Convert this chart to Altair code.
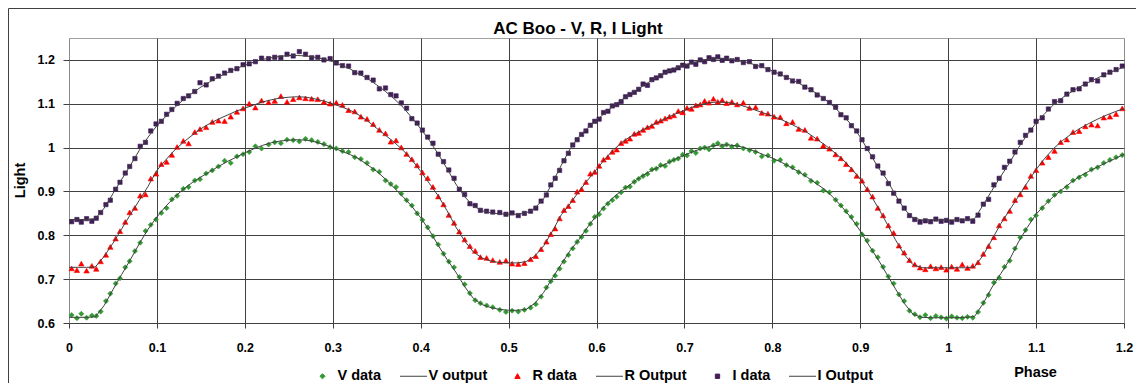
import altair as alt
import pandas as pd

# ---------------- data ----------------
model_phase = [
    0.00, 0.01, 0.02, 0.03, 0.04, 0.05, 0.06, 0.07, 0.08, 0.09,
    0.10, 0.11, 0.12, 0.13, 0.14, 0.15, 0.16, 0.17, 0.18, 0.19,
    0.20, 0.21, 0.22, 0.23, 0.24, 0.25, 0.26, 0.27, 0.28, 0.29,
    0.30, 0.31, 0.32, 0.33, 0.34, 0.35, 0.36, 0.37, 0.38, 0.39,
    0.40, 0.41, 0.42, 0.43, 0.44, 0.45, 0.46, 0.47, 0.48, 0.49,
    0.50, 0.51, 0.52, 0.53, 0.54, 0.55, 0.56, 0.57, 0.58, 0.59,
    0.60, 0.61, 0.62, 0.63, 0.64, 0.65, 0.66, 0.67, 0.68, 0.69,
    0.70, 0.71, 0.72, 0.73, 0.74, 0.75, 0.76, 0.77, 0.78, 0.79,
    0.80, 0.81, 0.82, 0.83, 0.84, 0.85, 0.86, 0.87, 0.88, 0.89,
    0.90, 0.91, 0.92, 0.93, 0.94, 0.95, 0.96, 0.97, 0.98, 0.99,
    1.00, 1.01, 1.02, 1.03, 1.04, 1.05, 1.06, 1.07, 1.08, 1.09,
    1.10, 1.11, 1.12, 1.13, 1.14, 1.15, 1.16, 1.17, 1.18, 1.19,
    1.20,
]
v_output = [
    .613, .613, .613, .614, .640, .676, .711, .745, .781, .814,
    .842, .866, .887, .905, .920, .933, .945, .957, .968, .978,
    .988, .997, 1.005, 1.011, 1.015, 1.017, 1.018, 1.017, 1.013, 1.007,
    1.000, .992, .984, .974, .960, .946, .928, .908, .888, .866,
    .840, .811, .777, .745, .716, .683, .656, .642, .635, .631,
    .629, .629, .631, .645, .670, .703, .734, .765, .790, .819,
    .845, .868, .888, .904, .918, .933, .945, .955, .964, .974,
    .983, .991, .998, 1.003, 1.006, 1.006, 1.004, .999, .992, .984,
    .976, .967, .956, .945, .932, .918, .904, .885, .863, .839,
    .810, .777, .746, .712, .678, .645, .620, .613, .612, .612,
    .612, .612, .613, .615, .645, .682, .713, .745, .785, .818,
    .848, .870, .889, .905, .921, .935, .946, .956, .966, .975,
    .985,
]
r_output = [
    .727, .727, .727, .728, .752, .782, .815, .848, .880, .912,
    .948, .972, .994, 1.012, 1.028, 1.043, 1.055, 1.065, 1.074, 1.083,
    1.090, 1.097, 1.104, 1.109, 1.113, 1.115, 1.116, 1.115, 1.111, 1.106,
    1.100, 1.093, 1.085, 1.074, 1.060, 1.044, 1.028, 1.012, .994, .972,
    .946, .918, .890, .856, .819, .787, .762, .748, .741, .738,
    .737, .737, .740, .753, .776, .810, .847, .872, .900, .926,
    .950, .975, .996, 1.014, 1.027, 1.038, 1.048, 1.058, 1.068, 1.077,
    1.085, 1.093, 1.099, 1.103, 1.104, 1.103, 1.099, 1.093, 1.086, 1.079,
    1.072, 1.064, 1.055, 1.045, 1.034, 1.020, 1.006, .990, .973, .952,
    .928, .898, .864, .828, .790, .756, .733, .726, .726, .726,
    .726, .726, .726, .728, .755, .791, .827, .858, .889, .920,
    .950, .976, .998, 1.016, 1.031, 1.044, 1.055, 1.065, 1.074, 1.082,
    1.089,
]
i_output = [
    .836, .836, .836, .838, .862, .895, .928, .960, .994, 1.024,
    1.050, 1.071, 1.091, 1.109, 1.124, 1.138, 1.150, 1.161, 1.171, 1.180,
    1.188, 1.195, 1.201, 1.205, 1.208, 1.210, 1.210, 1.209, 1.206, 1.202,
    1.196, 1.188, 1.179, 1.168, 1.157, 1.143, 1.128, 1.111, 1.092, 1.068,
    1.043, 1.016, .985, .952, .917, .888, .867, .856, .851, .849,
    .848, .848, .851, .862, .884, .920, .960, .997, 1.025, 1.045,
    1.062, 1.080, 1.096, 1.111, 1.124, 1.137, 1.150, 1.162, 1.173, 1.181,
    1.188, 1.194, 1.199, 1.202, 1.203, 1.202, 1.199, 1.195, 1.189, 1.183,
    1.175, 1.166, 1.157, 1.147, 1.136, 1.124, 1.110, 1.093, 1.074, 1.052,
    1.024, .990, .956, .928, .892, .860, .840, .835, .835, .835,
    .835, .835, .835, .838, .870, .903, .935, .966, 1.000, 1.030,
    1.056, 1.078, 1.098, 1.114, 1.127, 1.139, 1.149, 1.159, 1.168, 1.176,
    1.184,
]

data_phase = [
    0.003, 0.009, 0.014, 0.020, 0.026, 0.031, 0.036, 0.042, 0.047, 0.053,
    0.058, 0.064, 0.069, 0.075, 0.081, 0.087, 0.093, 0.099, 0.105, 0.111,
    0.117, 0.123, 0.130, 0.136, 0.143, 0.149, 0.156, 0.163, 0.170, 0.177,
    0.184, 0.191, 0.198, 0.205, 0.212, 0.219, 0.227, 0.234, 0.241, 0.248,
    0.255, 0.262, 0.269, 0.276, 0.283, 0.290, 0.297, 0.304, 0.311, 0.318,
    0.325, 0.332, 0.339, 0.346, 0.353, 0.360, 0.366, 0.372, 0.378, 0.384,
    0.390, 0.396, 0.402, 0.408, 0.414, 0.420, 0.426, 0.432, 0.438, 0.444,
    0.450, 0.456, 0.462, 0.468, 0.475, 0.482, 0.490, 0.497, 0.504, 0.511,
    0.518, 0.525, 0.531, 0.537, 0.543, 0.548, 0.553, 0.558, 0.563, 0.568,
    0.573, 0.578, 0.583, 0.588, 0.593, 0.598, 0.603, 0.608, 0.613, 0.618,
    0.623, 0.628, 0.633, 0.638, 0.643, 0.648, 0.653, 0.658, 0.663, 0.668,
    0.673, 0.678, 0.683, 0.688, 0.693, 0.698, 0.703, 0.708, 0.713, 0.718,
    0.723, 0.728, 0.733, 0.738, 0.743, 0.748, 0.754, 0.760, 0.767, 0.774,
    0.781, 0.788, 0.795, 0.802, 0.809, 0.816, 0.823, 0.830, 0.837, 0.844,
    0.851, 0.858, 0.865, 0.872, 0.878, 0.884, 0.890, 0.896, 0.902, 0.908,
    0.914, 0.920, 0.926, 0.932, 0.938, 0.944, 0.950, 0.956, 0.962, 0.968,
    0.974, 0.980, 0.986, 0.992, 0.998, 1.004, 1.010, 1.016, 1.022, 1.028,
    1.034, 1.040, 1.046, 1.052, 1.058, 1.064, 1.070, 1.076, 1.082, 1.088,
    1.094, 1.100, 1.107, 1.114, 1.121, 1.128, 1.135, 1.142, 1.149, 1.156,
    1.163, 1.170, 1.177, 1.184, 1.191, 1.198,
]
v_data = [
    .618, .611, .621, .612, .617, .616, .626, .650, .667, .690,
    .702, .727, .741, .764, .783, .810, .824, .836, .851, .862,
    .882, .890, .906, .910, .925, .928, .941, .948, .957, .970,
    .965, .980, .985, .990, 1.003, .998, 1.007, 1.012, 1.010, 1.018,
    1.017, 1.014, 1.020, 1.017, 1.013, 1.008, 1.001, .998, .992, .990,
    .978, .974, .965, .950, .945, .925, .917, .910, .895, .880,
    .868, .850, .835, .818, .798, .779, .758, .740, .727, .705,
    .688, .668, .652, .645, .640, .636, .630, .625, .628, .626,
    .630, .635, .643, .660, .681, .695, .708, .724, .740, .755,
    .770, .785, .796, .810, .826, .842, .848, .861, .872, .880,
    .888, .898, .909, .911, .922, .929, .935, .940, .950, .952,
    .960, .958, .968, .972, .975, .984, .982, .992, .988, .998,
    1.000, .996, 1.005, 1.010, 1.003, 1.007, 1.002, 1.005, .998, .994,
    .990, .980, .982, .970, .972, .960, .955, .944, .938, .924,
    .920, .902, .898, .881, .868, .855, .842, .826, .802, .788,
    .765, .750, .728, .706, .690, .665, .650, .628, .620, .613,
    .618, .611, .616, .613, .610, .615, .612, .611, .614, .612,
    .625, .646, .664, .692, .703, .728, .742, .770, .795, .812,
    .836, .845, .862, .878, .892, .900, .910, .925, .932, .938,
    .950, .955, .965, .972, .978, .983,
]
r_data = [
    .724, .720, .735, .719, .730, .723, .740, .755, .773, .792,
    .809, .830, .852, .862, .890, .893, .929, .940, .962, .967,
    .983, 1.001, 1.015, 1.009, 1.035, 1.042, 1.046, 1.058, 1.061, 1.060,
    1.070, 1.081, 1.089, 1.100, 1.091, 1.107, 1.103, 1.106, 1.117, 1.104,
    1.110, 1.114, 1.112, 1.111, 1.110, 1.104, 1.100, 1.102, 1.097, 1.085,
    1.082, 1.070, 1.065, 1.053, 1.040, 1.032, 1.013, 1.016, 1.000, .985,
    .973, .959, .943, .930, .910, .888, .870, .846, .828, .808,
    .790, .775, .764, .750, .748, .743, .739, .742, .735, .734,
    .736, .745, .752, .768, .785, .802, .815, .838, .857, .866,
    .880, .899, .905, .921, .940, .944, .958, .972, .978, .990,
    .995, 1.010, 1.015, 1.020, 1.031, 1.033, 1.040, 1.046, 1.049, 1.058,
    1.061, 1.066, 1.070, 1.073, 1.083, 1.080, 1.090, 1.088, 1.096, 1.098,
    1.106, 1.102, 1.111, 1.104, 1.108, 1.101, 1.104, 1.098, 1.102, 1.090,
    1.092, 1.079, 1.077, 1.070, 1.069, 1.055, 1.058, 1.042, 1.040, 1.022,
    1.020, 1.004, .997, .984, .975, .962, .950, .935, .924, .905,
    .888, .862, .845, .822, .805, .776, .760, .743, .733, .726,
    .722, .729, .724, .727, .721, .728, .723, .733, .725, .730,
    .738, .757, .775, .795, .822, .838, .855, .880, .893, .910,
    .935, .948, .965, .978, .992, 1.012, 1.018, 1.035, 1.037, 1.048,
    1.052, 1.050, 1.068, 1.070, 1.076, 1.089,
]
i_data = [
    .831, .836, .830, .838, .832, .839, .852, .870, .880, .905,
    .921, .942, .957, .975, 1.003, 1.012, 1.038, 1.054, 1.060, 1.076,
    1.087, 1.101, 1.112, 1.118, 1.128, 1.148, 1.143, 1.157, 1.163, 1.170,
    1.176, 1.180, 1.189, 1.191, 1.196, 1.204, 1.203, 1.206, 1.205, 1.213,
    1.209, 1.219, 1.213, 1.205, 1.206, 1.200, 1.203, 1.193, 1.187, 1.186,
    1.171, 1.170, 1.160, 1.154, 1.134, 1.136, 1.121, 1.118, 1.102, 1.090,
    1.066, 1.056, 1.040, 1.024, 1.010, .985, .968, .949, .930, .905,
    .893, .872, .868, .857, .855, .853, .852, .848, .851, .845,
    .850, .855, .862, .878, .892, .915, .930, .948, .970, .987,
    1.006, 1.018, 1.030, 1.038, 1.051, 1.060, 1.065, 1.080, 1.083, 1.095,
    1.098, 1.105, 1.116, 1.121, 1.126, 1.133, 1.145, 1.142, 1.155, 1.159,
    1.164, 1.172, 1.175, 1.177, 1.182, 1.188, 1.186, 1.195, 1.190, 1.200,
    1.196, 1.205, 1.201, 1.207, 1.199, 1.204, 1.198, 1.201, 1.194, 1.196,
    1.185, 1.187, 1.178, 1.172, 1.168, 1.160, 1.152, 1.151, 1.138, 1.132,
    1.120, 1.112, 1.103, 1.092, 1.075, 1.068, 1.050, 1.038, 1.018, .998,
    .979, .958, .942, .918, .896, .878, .862, .845, .836, .830,
    .833, .831, .837, .832, .834, .830, .836, .833, .838, .832,
    .846, .871, .882, .915, .930, .955, .969, .990, 1.012, 1.028,
    1.040, 1.060, 1.068, 1.088, 1.105, 1.107, 1.122, 1.132, 1.134, 1.145,
    1.155, 1.152, 1.166, 1.172, 1.178, 1.186,
]

x_ticks = [0, 0.1, 0.2, 0.3, 0.4, 0.5, 0.6, 0.7, 0.8, 0.9, 1, 1.1, 1.2]
y_ticks = [0.6, 0.7, 0.8, 0.9, 1, 1.1, 1.2]

series_names = ["V data", "V output", "R data", "R Output", "I data", "I Output"]

# ---------------- styling ----------------
FONT = "Liberation Sans"
GREEN = "#339933"
RED = "#ff0000"
PURPLE = "#3f1f56"
LINE = "#404040"

fill_range = [GREEN, "transparent", RED, "transparent", PURPLE, "transparent"]
stroke_range = [GREEN, LINE, RED, LINE, PURPLE, LINE]
shape_range = [
    "M0,-0.19L0.19,0L0,0.19L-0.19,0Z",          # diamond
    "M-1,0H1",                                   # line
    "M0,-0.19L0.2,0.16L-0.2,0.16Z",             # triangle
    "M-1,0H1",
    "M-0.16,-0.16H0.16V0.16H-0.16Z",            # square
    "M-1,0H1",
]

assert len(model_phase) == len(v_output) == len(r_output) == len(i_output)
assert len(data_phase) == len(v_data) == len(r_data) == len(i_data)

points_df = pd.concat([
    pd.DataFrame({"phase": data_phase, "light": v_data, "series": "V data"}),
    pd.DataFrame({"phase": data_phase, "light": r_data, "series": "R data"}),
    pd.DataFrame({"phase": data_phase, "light": i_data, "series": "I data"}),
], ignore_index=True)

lines_df = pd.concat([
    pd.DataFrame({"phase": model_phase, "light": v_output, "series": "V output"}),
    pd.DataFrame({"phase": model_phase, "light": r_output, "series": "R Output"}),
    pd.DataFrame({"phase": model_phase, "light": i_output, "series": "I Output"}),
], ignore_index=True)

x_scale = alt.Scale(domain=[0, 1.2], nice=False, zero=False)
y_scale = alt.Scale(domain=[0.6, 1.25], nice=False, zero=False)

x_axis = alt.Axis(
    values=x_ticks, format="~g", domain=False, grid=True,
    gridColor=alt.condition("datum.value <= 0 || datum.value >= 1.19",
                            alt.value("#8c8c8c"), alt.value("#404040")),
    gridWidth=1, tickSize=5, tickColor="#404040", labelPadding=13,
    labelFont=FONT, labelFontSize=12.5, labelFontWeight="bold", labelColor="black",
    labelFlush=False, labelOverlap=False,
    title="Phase", titleFont=FONT, titleFontSize=14.5, titleFontWeight="bold",
    titleColor="black", titleX=966, titleY=53.5, titleAlign="center",
    titleBaseline="alphabetic",
)
y_axis = alt.Axis(
    values=y_ticks, format="~g", domain=False, grid=True, gridColor="#404040",
    gridWidth=1, tickSize=6, tickColor="#404040", labelPadding=8.5,
    labelFont=FONT, labelFontSize=12.5, labelFontWeight="bold", labelColor="black",
    labelFlush=False, labelOverlap=False,
    title="Light", titleFont=FONT, titleFontSize=14.5, titleFontWeight="bold",
    titleColor="black", titleX=-49, titleY=142, titleAlign="center",
    titleBaseline="middle", titleAngle=270,
)

legend = alt.Legend(
    orient="none", legendX=239.5, legendY=324, direction="horizontal", columns=6,
    title=None, labelFont=FONT, labelFontSize=14.5, labelFontWeight="bold",
    labelColor="black", labelOffset=1, columnPadding=16, rowPadding=0,
    symbolSize=729, symbolStrokeWidth=1, padding=0,
)

points = alt.Chart(points_df).mark_point(
    filled=True, size=729, strokeWidth=0.6, opacity=1
).encode(
    x=alt.X("phase:Q", scale=x_scale, axis=x_axis),
    y=alt.Y("light:Q", scale=y_scale, axis=y_axis),
    fill=alt.Fill("series:N", scale=alt.Scale(domain=series_names, range=fill_range),
                  legend=legend),
    stroke=alt.Stroke("series:N", scale=alt.Scale(domain=series_names, range=stroke_range),
                      legend=legend),
    shape=alt.Shape("series:N", scale=alt.Scale(domain=series_names, range=shape_range),
                    legend=legend),
)

lines = alt.Chart(lines_df).mark_line(color=LINE, strokeWidth=1).encode(
    x=alt.X("phase:Q", scale=x_scale),
    y=alt.Y("light:Q", scale=y_scale),
    detail="series:N",
)

frame_df = pd.DataFrame({"k": [0]})
frame_left = alt.Chart(frame_df).mark_rule(color="#404040", strokeWidth=1).encode(
    x=alt.value(-60.5), y=alt.value(-29.5), y2=alt.value(360)
)
frame_top = alt.Chart(frame_df).mark_rule(color="#404040", strokeWidth=1).encode(
    x=alt.value(-60.5), x2=alt.value(1070), y=alt.value(-29.5)
)

chart = alt.layer(points, lines, frame_left, frame_top).properties(
    width=1055, height=285,
    title=alt.Title("AC Boo - V, R, I Light", font=FONT, fontSize=17, fontWeight="bold",
                    color="black", anchor="middle", dx=-18.5, dy=42.8, offset=0,
                    baseline="alphabetic", frame="group"),
    padding={"left": 61, "top": 30, "right": 12, "bottom": 60},
    autosize=alt.AutoSizeParams(type="none"),
    background="white",
).configure_view(stroke="#a0a0a0", strokeWidth=1)

chart.save("out.html", embed_options={"renderer": "svg", "actions": False})
